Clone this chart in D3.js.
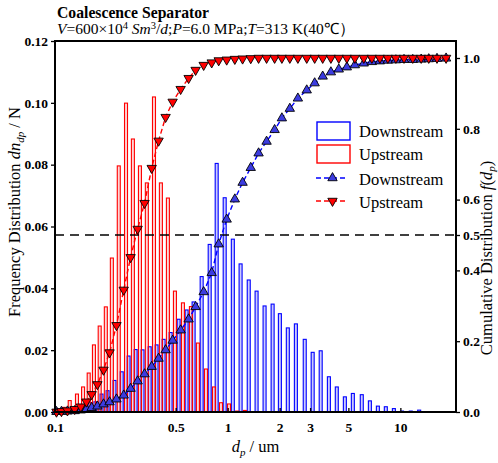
<!DOCTYPE html>
<html>
<head>
<meta charset="utf-8">
<script src="https://cdn.jsdelivr.net/npm/d3@7"></script>
<style>
  body { margin: 0; background: #fff; }
  text { font-family: "Liberation Serif", "Times New Roman", serif; }
</style>
</head>
<body>
<svg width="498" height="463"></svg>
<script>
// droplet diameter bins (um)
const diameters = [0.102,0.109,0.118,0.130,0.141,0.152,0.163,0.176,0.191,0.207,0.227,0.250,0.274,0.301,0.330,0.363,0.398,0.437,0.480,0.534,
  0.594,0.652,0.726,0.808,0.887,0.987,1.10,1.22,1.36,1.51,1.68,1.87,2.06,2.29,2.55,2.87,3.19,3.55,3.96,4.40,
  4.90,5.45,6.14,6.84,7.61,8.46,9.42,10.5,11.8,13.2,14.6,16.3,18.4]

// frequency distribution (left axis)
const downFreq = [0.0002,0.0004,0.0006,0.001,0.0015,0.0022,0.003,0.0033,0.0058,0.0069,0.0102,0.013,0.0181,0.0202,0.0201,0.0211,0.0217,0.0235,0.0257,0.030,
  0.033,0.0356,0.0438,0.0542,0.0804,0.0693,0.0559,0.0479,0.0427,0.0391,0.0343,0.0349,0.0318,0.0272,0.0285,0.0235,0.0193,0.0198,0.0114,0.0081,
  0.0049,0.006,0.0056,0.0036,0.0019,0.0017,0.0011,0.0003,0.0003,0.0006,0,0,0]
const upFreq = [0.0005,0.0015,0.0037,0.0058,0.0081,0.0126,0.0217,0.0278,0.034,0.0498,0.0796,0.0999,0.0883,0.0796,0.0741,0.1019,0.0741,0.0692,0.0391,0.0353,
  0.0341,0.0223,0.0139,0.0081,0.003,0.0026,0.0003,0.0005,0,0,0,0,0,0,0,0,0,0,0,0,
  0,0,0,0,0,0,0,0,0,0,0,0,0]

// cumulative distribution (right axis)
const downCum = [0.0005,0.001,0.002,0.003,0.005,0.008,0.012,0.016,0.022,0.028,0.036,0.047,0.066,0.087,0.107,0.128,0.151,0.175,0.202,0.231,
  0.262,0.297,0.339,0.393,0.474,0.544,0.601,0.648,0.690,0.731,0.764,0.797,0.830,0.857,0.886,0.909,0.929,0.948,0.960,0.968,
  0.974,0.980,0.985,0.989,0.991,0.993,0.994,0.995,0.995,0.996,0.997,0.998,0.999]
const upCum = [0.0005,0.002,0.004,0.008,0.015,0.029,0.050,0.078,0.119,0.168,0.245,0.345,0.437,0.517,0.590,0.689,0.766,0.833,0.876,0.912,
  0.943,0.966,0.980,0.987,0.993,0.995,0.997,0.998,0.999,1,1,1,1,1,1,1,1,1,1,1,
  1,1,1,1,1,1,1,1,1,1,1,1,1]

const xTicks = [0.1,0.5,1,2,3,5,10]
const leftTicks = [0,0.02,0.04,0.06,0.08,0.10,0.12]
const rightTicks = [0,0.2,0.4,0.5,0.6,0.8,1.0]

const blue = "#0000ff", red = "#ff0000"

const svg = d3.select("svg")
const width = +svg.attr("width")
const height = +svg.attr("height")
const margin = { top:41, right:42, bottom:51, left:55 }
const w = width - margin.left - margin.right
const h = height - margin.top - margin.bottom

const xScale = d3.scaleLog().domain([0.1, 21]).range([0, w])
const yLeft = d3.scaleLinear().domain([0, 0.12]).range([h, 0])
const yRight = d3.scaleLinear().domain([0, 1.048]).range([h, 0])

const g = svg.append("g").attr("transform", `translate(${margin.left},${margin.top})`)

// bars: downstream a bit left of the bin, upstream a bit right
const barW = 3
g.selectAll(".bar-down").data(diameters.map((d,i) => ({d, v: downFreq[i]})).filter(p => p.v > 0))
  .enter().append("rect")
  .attr("x", p => xScale(p.d) - barW - 0.5)
  .attr("y", p => yLeft(p.v))
  .attr("width", barW)
  .attr("height", p => h - yLeft(p.v))
  .attr("fill", "rgba(80,80,255,0.3)")
  .attr("stroke", blue).attr("stroke-width", 1.1)

g.selectAll(".bar-up").data(diameters.map((d,i) => ({d, v: upFreq[i]})).filter(p => p.v > 0))
  .enter().append("rect")
  .attr("x", p => xScale(p.d) + 0.8)
  .attr("y", p => yLeft(p.v))
  .attr("width", barW)
  .attr("height", p => h - yLeft(p.v))
  .attr("fill", "rgba(255,90,90,0.25)")
  .attr("stroke", red).attr("stroke-width", 1.1)

// 50% reference line
g.append("line")
  .attr("x1", 0).attr("x2", w)
  .attr("y1", yRight(0.5)).attr("y2", yRight(0.5))
  .attr("stroke", "#000").attr("stroke-width", 1.6)
  .attr("stroke-dasharray", "9,6")

// cumulative curves
const drawCum = (vals, color, fill, flip) => {
  const pts = diameters.map((d,i) => [xScale(d), yRight(vals[i])])
  g.append("path")
    .attr("d", d3.line()(pts))
    .attr("fill", "none").attr("stroke", color)
    .attr("stroke-width", 1.4).attr("stroke-dasharray", "5,3")
  g.selectAll(null).data(pts).enter().append("path")
    .attr("d", d3.symbol(d3.symbolTriangle, 38)())
    .attr("transform", p => `translate(${p[0]},${p[1]})` + (flip ? " rotate(180)" : ""))
    .attr("fill", fill).attr("stroke", "#000").attr("stroke-width", 0.9)
}
drawCum(downCum, blue, "#3c3ce0", false)
drawCum(upCum, red, red, true)

// axes
const xAxisG = g.append("g").attr("transform", `translate(0,${h})`)
  .call(d3.axisBottom(xScale).tickValues(xTicks).tickFormat(d3.format("~g")).tickSizeInner(-4).tickSizeOuter(0).tickPadding(10))
const yAxisG = g.append("g")
  .call(d3.axisLeft(yLeft).tickValues(leftTicks).tickFormat(d3.format(".2f")).tickSizeInner(4).tickSizeOuter(0).tickPadding(3))
const yRightG = g.append("g").attr("transform", `translate(${w},0)`)
  .call(d3.axisRight(yRight).tickValues(rightTicks).tickFormat(d3.format(".1f")).tickSizeInner(4).tickSizeOuter(0).tickPadding(3))

;[xAxisG, yAxisG, yRightG].forEach(a => {
  a.select(".domain").remove()
  a.selectAll(".tick line").attr("stroke", "#000").attr("stroke-width", 1.3)
  a.selectAll(".tick text")
    .attr("fill", "#000")
    .style("font-family", '"Liberation Serif", serif')
    .style("font-size", "13.5px")
    .style("font-weight", "bold")
})

// frame
g.append("rect")
  .attr("width", w).attr("height", h)
  .attr("fill", "none").attr("stroke", "#000").attr("stroke-width", 2)

// title + conditions
svg.append("text").attr("x", 57).attr("y", 18)
  .style("font-size", "15.7px").style("font-weight", "bold")
  .text("Coalescence Separator")

const sub = svg.append("text").attr("x", 57).attr("y", 34).style("font-size", "15.5px")
const parts = [
  ["V", "i"], ["=600×10", ""], ["4", "sup"], [" ", ""], ["Sm", "i"], ["3", "sup"], ["/", ""], ["d", "i"],
  [";", ""], ["P", "i"], ["=6.0 MPa;", ""], ["T", "i"], ["=313 K(40℃）", ""]
]
let raised = false
parts.forEach(([t, k]) => {
  const ts = sub.append("tspan").text(t)
  if (k === "i") ts.style("font-style", "italic")
  if (k === "sup") { ts.attr("dy", -5).style("font-size", "10.5px"); raised = true }
  else if (raised) { ts.attr("dy", 5); raised = false }
})

// axis titles
const xt = svg.append("text")
  .attr("x", margin.left + w/2).attr("y", 452)
  .attr("text-anchor", "middle").style("font-size", "16.5px")
xt.append("tspan").text("d").style("font-style", "italic")
xt.append("tspan").text("p").style("font-style", "italic").style("font-size", "11px").attr("dy", 4)
xt.append("tspan").text(" / um").attr("dy", -4)

const yl = svg.append("text")
  .attr("transform", `translate(20,212) rotate(-90)`)
  .attr("text-anchor", "middle").style("font-size", "16.5px")
yl.append("tspan").text("Frequency Distribution ")
yl.append("tspan").text("dn").style("font-style", "italic")
yl.append("tspan").text("dp").style("font-style", "italic").style("font-size", "11px").attr("dy", 4)
yl.append("tspan").text(" / N").attr("dy", -4)

const yr = svg.append("text")
  .attr("transform", `translate(492,258) rotate(-90)`)
  .attr("text-anchor", "middle").style("font-size", "16.5px")
yr.append("tspan").text("Cumulative Distribution ")
yr.append("tspan").text("f").style("font-style", "italic")
yr.append("tspan").text("(")
yr.append("tspan").text("d").style("font-style", "italic")
yr.append("tspan").text("p").style("font-style", "italic").style("font-size", "11px").attr("dy", 3)
yr.append("tspan").text(")").attr("dy", -3)

// legend
const lg = svg.append("g")
const lx = 317
lg.append("rect").attr("x", lx).attr("y", 122).attr("width", 33).attr("height", 18)
  .attr("fill", "none").attr("stroke", blue).attr("stroke-width", 1.4)
lg.append("rect").attr("x", lx).attr("y", 145).attr("width", 33).attr("height", 18)
  .attr("fill", "none").attr("stroke", red).attr("stroke-width", 1.4)
const legendItems = [
  ["Downstream", 137], ["Upstream", 160], ["Downstream", 185], ["Upstream", 208]
]
legendItems.forEach(([t, y]) => {
  lg.append("text").attr("x", 359).attr("y", y).style("font-size", "16.5px").text(t)
})
;[[blue, "#3c3ce0", 178, false], [red, red, 201, true]].forEach(([c, f, y, flip]) => {
  lg.append("line").attr("x1", lx - 1).attr("x2", lx + 31).attr("y1", y).attr("y2", y)
    .attr("stroke", c).attr("stroke-width", 1.4).attr("stroke-dasharray", "5,3")
  lg.append("path").attr("d", d3.symbol(d3.symbolTriangle, 38)())
    .attr("transform", `translate(${lx + 15.5},${y})` + (flip ? " rotate(180)" : ""))
    .attr("fill", f).attr("stroke", "#000").attr("stroke-width", 0.9)
})
</script>
</body>
</html>
